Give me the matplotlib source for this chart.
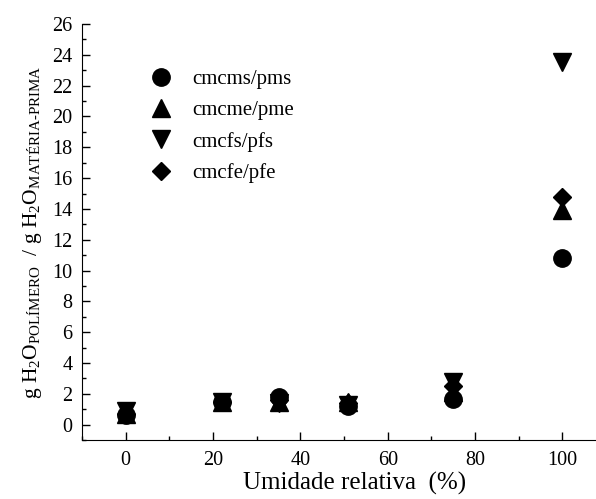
import matplotlib
matplotlib.use("Agg")
import matplotlib.pyplot as plt
from matplotlib.ticker import MultipleLocator

plt.rcParams["font.family"] = ["Liberation Serif", "DejaVu Serif"]
plt.rcParams["mathtext.fontset"] = "custom"
plt.rcParams["mathtext.rm"] = "Liberation Serif"
plt.rcParams["mathtext.it"] = "Liberation Serif:italic"

# relative humidity (%)
umidade = [0, 22, 35, 51, 75, 100]

# water uptake per series
cmcms_pms = [0.6, 1.5, 1.8, 1.2, 1.7, 10.8]
cmcme_pme = [0.7, 1.5, 1.5, 1.5, 2.1, 13.9]
cmcfs_pfs = [0.9, 1.5, 1.4, 1.3, 2.8, 23.5]
cmcfe_pfe = [0.7, 1.5, 1.6, 1.4, 2.5, 14.8]

series = [
    ("cmcms/pms", cmcms_pms, "o", 12.5),
    ("cmcme/pme", cmcme_pme, "^", 13),
    ("cmcfs/pfs", cmcfs_pfs, "v", 13),
    ("cmcfe/pfe", cmcfe_pfe, "D", 9.5),
]

fig = plt.figure(figsize=(5.96, 4.99), dpi=100)
# axes runs a bit past the right edge, like the cropped original
ax = fig.add_axes([0.1376, 0.118, 0.916, 0.834])

for label, vals, mk, ms in series:
    ax.plot(umidade, vals, linestyle="none", marker=mk, markersize=ms,
            color="black", label=label)

ax.set_xlim(-10, 115)
ax.set_ylim(-1, 26)
ax.set_xticks([0, 20, 40, 60, 80, 100])
ax.xaxis.set_minor_locator(MultipleLocator(10))
ax.yaxis.set_minor_locator(MultipleLocator(1))
ax.set_yticks(range(0, 27, 2))

for side in ("top", "right"):
    ax.spines[side].set_visible(False)
ax.tick_params(which="both", direction="in", labelsize=14.5, width=1)
ax.tick_params(which="major", length=6)
ax.tick_params(which="minor", length=3)
ax.tick_params(axis="y", pad=7)
ax.tick_params(axis="x", pad=8)

ax.set_xlabel("Umidade relativa  (%)", fontsize=18, labelpad=1)
ax.set_ylabel(r"g H$_2$O$_{\mathrm{POLÍMERO}}$  / g H$_2$O$_{\mathrm{MATÉRIA\text{-}PRIMA}}$",
              fontsize=15.5, labelpad=6)

ax.legend(loc="upper left", bbox_to_anchor=(0.1, 0.91), frameon=False,
          fontsize=15, labelspacing=0.55, handlelength=1.5,
          handletextpad=0.75, borderaxespad=0)

fig.savefig("out.png", dpi=100)
